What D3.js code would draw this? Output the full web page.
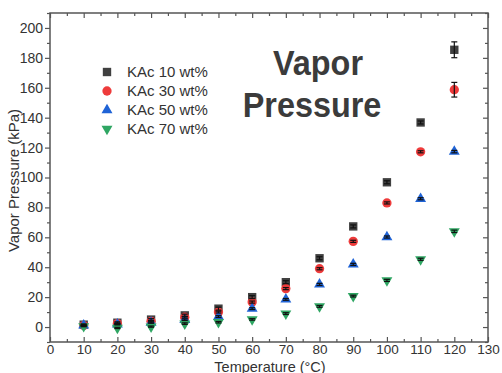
<!DOCTYPE html>
<html>
<head>
<meta charset="utf-8">
<script src="https://cdn.jsdelivr.net/npm/d3@7"></script>
<style>
  html, body { margin: 0; padding: 0; background: #fff; }
  svg { display: block; }
  text { font-family: "Liberation Sans", Arial, sans-serif; fill: #333; }
</style>
</head>
<body>
<svg id="chart" width="502" height="373"></svg>
<script>
// Vapor pressure of potassium acetate (KAc) solutions vs temperature
const temperatures = [10, 20, 30, 40, 50, 60, 70, 80, 90, 100, 110, 120];

const kac10 = [1.6, 2.9, 5.0, 7.8, 12.3, 20.0, 30.0, 46.0, 67.3, 96.8, 136.8, 185.4];
const kac30 = [1.0, 2.3, 3.8, 6.6, 10.0, 16.7, 25.7, 39.0, 57.3, 83.0, 117.2, 158.7];
const kac50 = [1.2, 1.8, 3.0, 4.9, 7.0, 12.3, 18.5, 28.5, 41.9, 60.2, 85.8, 117.3];
const kac70 = [0.5, -0.6, 0.3, 2.3, 3.2, 5.1, 9.0, 13.8, 20.7, 31.2, 45.3, 64.0];

const err10 = [0.5, 0.6, 0.6, 0.8, 1.0, 1.0, 1.0, 1.0, 1.0, 1.0, 1.0, 5.3];
const err30 = [0.4, 0.5, 0.5, 0.6, 0.6, 0.7, 0.7, 0.7, 0.7, 0.7, 0.7, 4.9];
const err50 = [0.4, 0.4, 0.5, 0.5, 0.6, 0.6, 0.6, 0.7, 0.7, 0.7, 0.7, 0.8];
const err70 = [0.3, 0.4, 0.4, 0.5, 0.5, 0.5, 0.6, 0.6, 0.6, 0.7, 0.7, 0.8];

const seriesNames = ["KAc 10 wt%", "KAc 30 wt%", "KAc 50 wt%", "KAc 70 wt%"];
const seriesColors = ["#404040", "#ee3b3b", "#1f63d6", "#2fa663"];

const xTicks = [0, 10, 20, 30, 40, 50, 60, 70, 80, 90, 100, 110, 120, 130];
const yTicks = [0, 20, 40, 60, 80, 100, 120, 140, 160, 180, 200];

const series = [
  { name: seriesNames[0], values: kac10, errors: err10, color: seriesColors[0], shape: "square" },
  { name: seriesNames[1], values: kac30, errors: err30, color: seriesColors[1], shape: "circle" },
  { name: seriesNames[2], values: kac50, errors: err50, color: seriesColors[2], shape: "up" },
  { name: seriesNames[3], values: kac70, errors: err70, color: seriesColors[3], shape: "down" }
];

const svg = d3.select("#chart");
const margin = { top: 13, right: 14, bottom: 31, left: 50 };
const W = 502, H = 373;
const innerW = W - margin.left - margin.right;
const innerH = H - margin.top - margin.bottom;

const x = d3.scaleLinear().domain([0, 130]).range([margin.left, margin.left + innerW]);
const y = d3.scaleLinear().domain([-10, 210]).range([margin.top + innerH, margin.top]);

const axisColor = "#555";

function styleAxis(g, size) {
  g.select(".domain").remove();
  g.selectAll("line").attr("stroke", axisColor).attr("stroke-width", 1.2);
  g.selectAll("text").attr("fill", "#333").style("font-size", (size || 14) + "px");
}

// minor ticks
const xMinor = d3.range(5, 130, 10);
const yMinor = d3.range(-10, 211, 20);

// bottom axis: ticks inward
svg.append("g")
  .attr("transform", `translate(0,${margin.top + innerH})`)
  .call(d3.axisBottom(x).tickValues(xTicks).tickSizeInner(-5).tickSizeOuter(0).tickPadding(2))
  .call(g => styleAxis(g, 13.5));
svg.append("g")
  .attr("transform", `translate(0,${margin.top + innerH})`)
  .call(d3.axisBottom(x).tickValues(xMinor).tickSize(-3).tickFormat(""))
  .call(styleAxis);

// top axis: ticks inward, no labels
svg.append("g")
  .attr("transform", `translate(0,${margin.top})`)
  .call(d3.axisTop(x).tickValues(xTicks).tickSize(-5).tickFormat(""))
  .call(styleAxis);
svg.append("g")
  .attr("transform", `translate(0,${margin.top})`)
  .call(d3.axisTop(x).tickValues(xMinor).tickSize(-3).tickFormat(""))
  .call(styleAxis);

// left axis: ticks outward with labels
svg.append("g")
  .attr("transform", `translate(${margin.left},0)`)
  .call(d3.axisLeft(y).tickValues(yTicks).tickSize(5).tickPadding(2))
  .call(styleAxis);
svg.append("g")
  .attr("transform", `translate(${margin.left},0)`)
  .call(d3.axisLeft(y).tickValues(yMinor).tickSize(3).tickFormat(""))
  .call(styleAxis);

// right axis: ticks inward
svg.append("g")
  .attr("transform", `translate(${margin.left + innerW},0)`)
  .call(d3.axisRight(y).tickValues(yTicks).tickSize(-5).tickFormat(""))
  .call(styleAxis);
svg.append("g")
  .attr("transform", `translate(${margin.left + innerW},0)`)
  .call(d3.axisRight(y).tickValues(yMinor).tickSize(-3).tickFormat(""))
  .call(styleAxis);

// plot frame
svg.append("rect")
  .attr("x", margin.left).attr("y", margin.top)
  .attr("width", innerW).attr("height", innerH)
  .attr("fill", "none").attr("stroke", axisColor).attr("stroke-width", 1.5);

// axis titles
svg.append("text")
  .attr("x", margin.left + innerW / 2 + 1).attr("y", 371.5)
  .attr("text-anchor", "middle")
  .style("font-size", "14.5px")
  .text("Temperature (°C)");

svg.append("text")
  .attr("transform", `translate(19,${margin.top + innerH / 2 + 3}) rotate(-90)`)
  .attr("text-anchor", "middle")
  .style("font-size", "15px")
  .text("Vapor Pressure (kPa)");

// marker shapes
function symbolPath(shape) {
  if (shape === "square") return d3.symbol(d3.symbolSquare, 70)();
  if (shape === "circle") return d3.symbol(d3.symbolCircle, 68)();
  return d3.symbol(d3.symbolTriangle, 52)();
}
function symbolRotate(shape) {
  return shape === "down" ? " rotate(180)" : "";
}

const plot = svg.append("g");

series.forEach(s => {
  plot.append("g").selectAll("path")
    .data(temperatures.map((t, i) => ({ t, v: s.values[i] })))
    .join("path")
    .attr("d", symbolPath(s.shape))
    .attr("transform", d => `translate(${x(d.t)},${y(d.v)})${symbolRotate(s.shape)}`)
    .attr("fill", s.color);
});

// error bars drawn over the markers
series.forEach(s => {
  const g = plot.append("g").attr("stroke", "#111").attr("stroke-width", 1.2);
  temperatures.forEach((t, i) => {
    const cx = x(t);
    const y1 = y(s.values[i] + s.errors[i]);
    const y0 = y(s.values[i] - s.errors[i]);
    g.append("line").attr("x1", cx).attr("x2", cx).attr("y1", y1).attr("y2", y0);
    g.append("line").attr("x1", cx - 3).attr("x2", cx + 3).attr("y1", y1).attr("y2", y1);
    g.append("line").attr("x1", cx - 3).attr("x2", cx + 3).attr("y1", y0).attr("y2", y0);
  });
});

// legend
const legend = svg.append("g");
series.forEach((s, i) => {
  const ly = 72 + i * 19;
  legend.append("path")
    .attr("d", symbolPath(s.shape))
    .attr("transform", `translate(107,${ly})${symbolRotate(s.shape)}`)
    .attr("fill", s.color);
  legend.append("text")
    .attr("x", 127).attr("y", ly + 5)
    .style("font-size", "15px")
    .text(s.name);
});

// title block, slightly condensed
const title = svg.append("g")
  .style("font-family", "'Open Sans', Lato, sans-serif")
  .style("font-weight", "bold")
  .style("font-size", "36px");
title.append("text")
  .attr("transform", "translate(318,75) scale(0.9,1)")
  .attr("text-anchor", "middle")
  .style("fill", "#3b3b3b").text("Vapor");
title.append("text")
  .attr("transform", "translate(312,117) scale(0.9,1)")
  .attr("text-anchor", "middle")
  .style("fill", "#3b3b3b").text("Pressure");
</script>
</body>
</html>
